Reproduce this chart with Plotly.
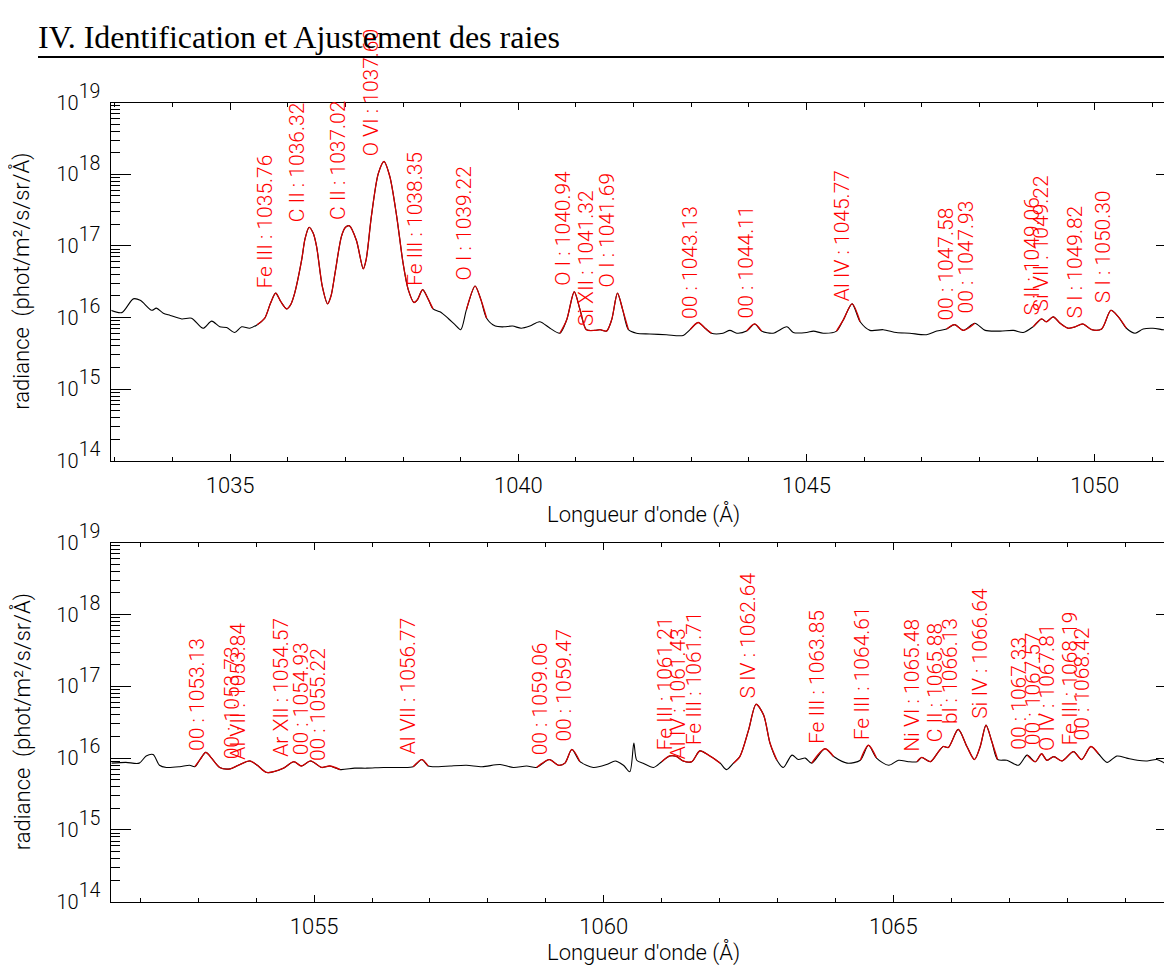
import math
import plotly.graph_objects as go

# ---------------- data: upper panel (1033-1051 A) ----------------
wl_top = [1032.93, 1033.12, 1033.32, 1033.44, 1033.64, 1033.72, 1033.84, 1033.96, 1034.16, 1034.33,
          1034.53, 1034.68, 1034.82, 1034.94, 1035.08, 1035.20, 1035.34, 1035.47, 1035.60, 1035.70,
          1035.79, 1035.88, 1035.98, 1036.05, 1036.12, 1036.24, 1036.30, 1036.37, 1036.44, 1036.50,
          1036.60, 1036.69, 1036.75, 1036.82, 1036.93, 1037.00, 1037.07, 1037.19, 1037.31, 1037.36,
          1037.45, 1037.57, 1037.67, 1037.77, 1037.89, 1038.00, 1038.09, 1038.19, 1038.25, 1038.34,
          1038.44, 1038.52, 1038.64, 1038.78, 1038.90, 1039.00, 1039.10, 1039.25, 1039.35, 1039.45,
          1039.60, 1039.75, 1039.90, 1040.05, 1040.20, 1040.37, 1040.55, 1040.72, 1040.84, 1040.97,
          1041.07, 1041.18, 1041.33, 1041.42, 1041.53, 1041.62, 1041.72, 1041.81, 1041.91, 1042.05,
          1042.28, 1042.57, 1042.86, 1042.98, 1043.12, 1043.24, 1043.35, 1043.55, 1043.67, 1043.79,
          1043.96, 1044.10, 1044.22, 1044.42, 1044.66, 1044.77, 1045.00, 1045.12, 1045.29, 1045.52,
          1045.64, 1045.79, 1045.93, 1046.10, 1046.33, 1046.56, 1046.79, 1047.08, 1047.26, 1047.43,
          1047.57, 1047.72, 1047.92, 1048.10, 1048.36, 1048.59, 1048.76, 1048.93, 1049.08, 1049.16,
          1049.28, 1049.40, 1049.54, 1049.66, 1049.79, 1049.95, 1050.12, 1050.28, 1050.41, 1050.55,
          1050.70, 1050.84, 1051.01, 1051.19, 1051.34, 1051.41]
rad_top = [1.26e16, 1.17e16, 1.82e16, 1.74e16, 1.26e16, 1.35e16, 1.15e16, 1.07e16, 9.55e15, 9.77e15,
           7.08e15, 8.91e15, 7.41e15, 7.24e15, 6.17e15, 7.41e15, 7.08e15, 7.94e15, 9.77e15, 1.58e16,
           2.19e16, 1.66e16, 1.32e16, 1.51e16, 2.19e16, 6.31e16, 1.26e17, 1.82e17, 1.51e17, 9.77e16,
           2.69e16, 1.55e16, 2.00e16, 4.17e16, 1.35e17, 1.82e17, 1.91e17, 1.20e17, 4.79e16, 6.46e16,
           2.57e17, 1.02e18, 1.51e18, 9.33e17, 2.57e17, 5.75e16, 2.45e16, 1.62e16, 1.78e16, 2.45e16,
           1.78e16, 1.32e16, 1.20e16, 9.77e15, 7.94e15, 6.76e15, 1.29e16, 2.75e16, 1.78e16, 9.77e15,
           7.59e15, 7.41e15, 7.59e15, 7.08e15, 7.59e15, 8.71e15, 7.08e15, 6.03e15, 9.33e15, 2.29e16,
           1.29e16, 6.76e15, 6.61e15, 6.76e15, 6.46e15, 9.33e15, 2.19e16, 1.29e16, 6.76e15, 6.03e15,
           5.89e15, 5.75e15, 5.62e15, 6.76e15, 8.51e15, 7.08e15, 6.03e15, 6.03e15, 6.61e15, 6.03e15,
           6.46e15, 8.13e15, 6.46e15, 6.03e15, 7.41e15, 6.17e15, 6.17e15, 6.46e15, 6.03e15, 6.46e15,
           9.33e15, 1.55e16, 8.71e15, 6.61e15, 6.76e15, 6.17e15, 6.03e15, 5.75e15, 6.46e15, 6.92e15,
           7.94e15, 6.61e15, 8.32e15, 6.61e15, 6.46e15, 6.61e15, 6.17e15, 7.41e15, 9.55e15, 8.71e15,
           1.02e16, 8.32e15, 7.08e15, 7.41e15, 8.13e15, 6.76e15, 6.92e15, 1.26e16, 1.02e16, 7.08e15,
           6.03e15, 6.92e15, 7.08e15, 6.76e15, 6.61e15, 6.61e15]
fit_start_top = [1035.45, 1039.05, 1040.65, 1042.93, 1043.90, 1045.50, 1047.30, 1048.87]
fit_end_top = [1038.55, 1039.45, 1041.95, 1043.38, 1044.31, 1046.03, 1048.02, 1050.56]

line_names_top = ["Fe III", "C II", "C II", "O VI", "Fe III", "O I", "O I", "Si XII", "O I", "00",
                  "00", "Al IV", "00", "00", "S II", "Si VII", "S I", "S I"]
line_wl_top = [1035.76, 1036.32, 1037.02, 1037.60, 1038.35, 1039.22, 1040.94, 1041.32, 1041.69, 1043.13,
               1044.11, 1045.77, 1047.58, 1047.93, 1049.06, 1049.22, 1049.82, 1050.30]
line_level_top = [2.45e16, 2.09e17, 2.19e17, 1.70e18, 2.69e16, 3.16e16, 2.69e16, 7.41e15, 2.57e16, 9.33e15,
                  9.33e15, 1.66e16, 8.71e15, 1.10e16, 1.02e16, 1.17e16, 9.33e15, 1.51e16]

# ---------------- data: lower panel (1051.5-1069.9 A) ----------------
wl_bot = [1051.50, 1051.75, 1051.98, 1052.10, 1052.22, 1052.33, 1052.45, 1052.68, 1052.85, 1052.94,
          1053.03, 1053.13, 1053.23, 1053.37, 1053.55, 1053.69, 1053.89, 1054.02, 1054.18, 1054.47,
          1054.65, 1054.78, 1054.94, 1055.13, 1055.27, 1055.45, 1055.70, 1055.91, 1056.20, 1056.48,
          1056.71, 1056.86, 1056.97, 1057.15, 1057.35, 1057.63, 1057.90, 1058.21, 1058.44, 1058.67,
          1058.84, 1059.06, 1059.22, 1059.33, 1059.45, 1059.59, 1059.82, 1060.05, 1060.20, 1060.34,
          1060.45, 1060.52, 1060.57, 1060.68, 1060.86, 1061.00, 1061.14, 1061.26, 1061.37, 1061.52,
          1061.66, 1061.81, 1062.01, 1062.12, 1062.24, 1062.35, 1062.50, 1062.63, 1062.76, 1062.87,
          1062.99, 1063.10, 1063.25, 1063.36, 1063.48, 1063.59, 1063.82, 1063.97, 1064.20, 1064.43,
          1064.57, 1064.71, 1064.92, 1065.09, 1065.26, 1065.41, 1065.49, 1065.64, 1065.78, 1065.86,
          1065.95, 1066.12, 1066.27, 1066.40, 1066.50, 1066.60, 1066.70, 1066.80, 1066.96, 1067.16,
          1067.31, 1067.45, 1067.56, 1067.65, 1067.77, 1067.91, 1068.11, 1068.25, 1068.41, 1068.54,
          1068.69, 1068.86, 1069.03, 1069.21, 1069.38, 1069.55, 1069.72, 1069.81, 1069.88]
rad_bot = [8.51e15, 8.71e15, 8.51e15, 1.07e16, 1.12e16, 7.94e15, 7.41e15, 7.59e15, 7.94e15, 7.59e15,
           9.55e15, 1.20e16, 1.00e16, 7.41e15, 7.08e15, 7.94e15, 9.12e15, 7.94e15, 6.31e15, 7.24e15,
           8.91e15, 7.76e15, 9.12e15, 7.41e15, 7.76e15, 6.92e15, 7.24e15, 7.24e15, 7.41e15, 7.41e15,
           7.59e15, 9.55e15, 7.76e15, 7.59e15, 7.76e15, 7.94e15, 7.59e15, 8.13e15, 7.41e15, 7.76e15,
           7.41e15, 9.55e15, 7.94e15, 8.51e15, 1.32e16, 8.91e15, 7.41e15, 8.13e15, 9.12e15, 7.94e15,
           6.46e15, 1.62e16, 9.33e15, 8.51e15, 7.41e15, 8.91e15, 1.07e16, 1.05e16, 9.12e15, 8.91e15,
           1.26e16, 1.10e16, 8.51e15, 6.92e15, 8.51e15, 1.05e16, 2.45e16, 5.62e16, 3.98e16, 1.62e16,
           9.33e15, 7.41e15, 1.10e16, 9.55e15, 1.00e16, 8.51e15, 1.35e16, 1.05e16, 8.51e15, 9.33e15,
           1.51e16, 1.00e16, 7.94e15, 9.33e15, 8.91e15, 8.91e15, 1.02e16, 8.91e15, 1.23e16, 1.45e16,
           1.41e16, 2.51e16, 1.45e16, 9.55e15, 1.45e16, 2.88e16, 1.70e16, 9.55e15, 9.33e15, 7.94e15,
           1.10e16, 8.91e15, 1.15e16, 9.33e15, 1.05e16, 9.12e15, 1.23e16, 9.55e15, 1.45e16, 1.15e16,
           8.71e15, 1.07e16, 1.00e16, 9.33e15, 9.12e15, 9.55e15, 8.32e15, 8.51e15, 8.51e15]
fit_start_bot = [1052.90, 1056.68, 1058.84, 1060.97, 1062.22, 1063.57, 1064.43, 1065.35, 1067.19]
fit_end_bot = [1055.45, 1057.00, 1059.64, 1062.03, 1063.06, 1064.05, 1064.78, 1066.81, 1068.55]

line_names_bot = ["00", "00", "Al VII", "Ar XII", "00", "00", "Al VII", "00", "00", "Fe III",
                  "Al IV", "Fe III", "S IV", "Fe III", "Fe III", "Ni VI", "C II", "bl", "Si IV", "00",
                  "00", "O IV", "Fe III", "00"]
line_wl_bot = [1053.13, 1053.73, 1053.84, 1054.57, 1054.93, 1055.22, 1056.77, 1059.06, 1059.47, 1061.21,
               1061.43, 1061.71, 1062.64, 1063.85, 1064.61, 1065.48, 1065.88, 1066.13, 1066.64, 1067.33,
               1067.57, 1067.81, 1068.19, 1068.42]
line_level_bot = [1.23e16, 9.33e15, 9.33e15, 1.00e16, 1.05e16, 8.91e15, 1.10e16, 1.05e16, 1.62e16, 1.23e16,
                  9.33e15, 1.45e16, 6.46e16, 1.51e16, 1.70e16, 1.17e16, 1.62e16, 2.88e16, 3.39e16, 1.26e16,
                  1.45e16, 1.20e16, 1.45e16, 1.70e16]

x_range_top = [1032.94, 1051.41]
x_range_bot = [1051.50, 1069.88]
y_range_log = [14, 19]
y_tick_vals = [1e14, 1e15, 1e16, 1e17, 1e18, 1e19]
y_tick_exps = [14, 15, 16, 17, 18, 19]

# ---------------- figure ----------------
W, H = 1172, 966
OFF = 8  # page offset of the figure (body margin)


def px(p):
    return (p - OFF) / W


def py(p):
    return 1 - (p - OFF) / H


dom_x = [px(111.4), px(1176)]
dom_top = [py(460.7), py(102.7)]
dom_bot = [py(901.7), py(542.7)]

FONT = "Roboto, Liberation Sans, DejaVu Sans, sans-serif"
tickfont = dict(family=FONT, size=22, color="black", weight=300)
ytickfont = dict(family=FONT, size=20, color="black", weight=300)
titlefont = dict(family=FONT, size=22, color="black", weight=300)
labfont = dict(family=FONT, size=21, color="#ff0000", weight=300)

y_tick_text = [f"10<span style='font-size:28px'><sup>{e}</sup></span>" for e in y_tick_exps]
Y_TITLE = "radiance  (phot/m²/s/sr/Å)"
X_TITLE = "Longueur d'onde (Å)"


def fit_curve(wl, rad, starts, ends):
    xs, ys = [], []
    for s, e in zip(starts, ends):
        for w, r in zip(wl, rad):
            if s <= w <= e:
                xs.append(w)
                ys.append(r)
        xs.append(None)
        ys.append(None)
    return xs, ys


fig = go.Figure()
fxt, fyt = fit_curve(wl_top, rad_top, fit_start_top, fit_end_top)
fxb, fyb = fit_curve(wl_bot, rad_bot, fit_start_bot, fit_end_bot)

fig.add_trace(go.Scatter(x=wl_top, y=rad_top, mode="lines", xaxis="x", yaxis="y",
                         line=dict(color="black", width=1.1, shape="spline", smoothing=0.8),
                         showlegend=False, hoverinfo="skip"))
fig.add_trace(go.Scatter(x=fxt, y=fyt, mode="lines", xaxis="x", yaxis="y", connectgaps=False,
                         line=dict(color="#d00000", width=1.3, shape="spline", smoothing=0.8),
                         showlegend=False, hoverinfo="skip"))
fig.add_trace(go.Scatter(x=wl_bot, y=rad_bot, mode="lines", xaxis="x2", yaxis="y2",
                         line=dict(color="black", width=1.1, shape="spline", smoothing=0.8),
                         showlegend=False, hoverinfo="skip"))
fig.add_trace(go.Scatter(x=fxb, y=fyb, mode="lines", xaxis="x2", yaxis="y2", connectgaps=False,
                         line=dict(color="#d00000", width=1.3, shape="spline", smoothing=0.8),
                         showlegend=False, hoverinfo="skip"))


def xaxis(rng, anchor, standoff):
    return dict(domain=dom_x, range=rng, anchor=anchor, tick0=1035, dtick=5,
                ticks="inside", ticklen=7, tickwidth=1, tickcolor="black",
                minor=dict(ticks="inside", ticklen=4, dtick=1, tickcolor="black", tickwidth=1,
                           showgrid=False),
                showline=True, linecolor="black", linewidth=1, mirror="ticks",
                showgrid=False, zeroline=False, tickfont=tickfont, ticklabelstandoff=5,
                automargin=False,
                title=dict(text=X_TITLE, font=titlefont, standoff=standoff))


def yaxis(dom, anchor):
    return dict(domain=dom, type="log", range=y_range_log, anchor=anchor,
                tickmode="array", tickvals=y_tick_vals, ticktext=y_tick_text,
                ticks="inside", ticklen=20, tickwidth=1, tickcolor="black",
                minor=dict(ticks="inside", ticklen=9, tickmode="linear", dtick="D1",
                           tickcolor="black", tickwidth=1, showgrid=False),
                showline=True, linecolor="black", linewidth=1, mirror="ticks",
                showgrid=False, zeroline=False, tickfont=ytickfont, ticklabelstandoff=6,
                automargin=False)


annotations = []
for name, wl, lev in zip(line_names_top, line_wl_top, line_level_top):
    annotations.append(dict(x=wl, y=math.log10(lev), xref="x", yref="y", text=f"{name} : {wl:.2f}",
                            textangle=-90, xanchor="right", yanchor="bottom", xshift=4,
                            showarrow=False, font=labfont, borderpad=0))
for name, wl, lev in zip(line_names_bot, line_wl_bot, line_level_bot):
    annotations.append(dict(x=wl, y=math.log10(lev), xref="x2", yref="y2", text=f"{name} : {wl:.2f}",
                            textangle=-90, xanchor="right", yanchor="bottom", xshift=4,
                            showarrow=False, font=labfont, borderpad=0))

# y-axis titles, rotated, left of each panel
for dom in (dom_top, dom_bot):
    annotations.append(dict(x=px(22), y=(dom[0] + dom[1]) / 2, xref="paper", yref="paper",
                            xanchor="center", yanchor="middle", textangle=-90, showarrow=False,
                            text=Y_TITLE, font=titlefont))

annotations.append(dict(x=px(36), y=py(37), xref="paper", yref="paper", xanchor="left",
                        yanchor="middle", showarrow=False,
                        text="IV. Identification et Ajustement des raies",
                        font=dict(family="Liberation Serif, DejaVu Serif, serif", size=32,
                                  color="black")))

fig.update_layout(
    width=W, height=H, autosize=False,
    margin=dict(l=0, r=0, t=0, b=0, pad=0, autoexpand=False),
    paper_bgcolor="white", plot_bgcolor="white",
    font=dict(family=FONT, color="black"),
    xaxis=xaxis(x_range_top, "y", 9),
    yaxis=yaxis(dom_top, "x"),
    xaxis2=xaxis(x_range_bot, "y2", 4),
    yaxis2=yaxis(dom_bot, "x2"),
    annotations=annotations,
    shapes=[dict(type="line", xref="paper", yref="paper", x0=px(38), x1=1,
                 y0=py(57), y1=py(57), line=dict(color="black", width=2))],
    showlegend=False,
)

fig.write_html("out.html")
